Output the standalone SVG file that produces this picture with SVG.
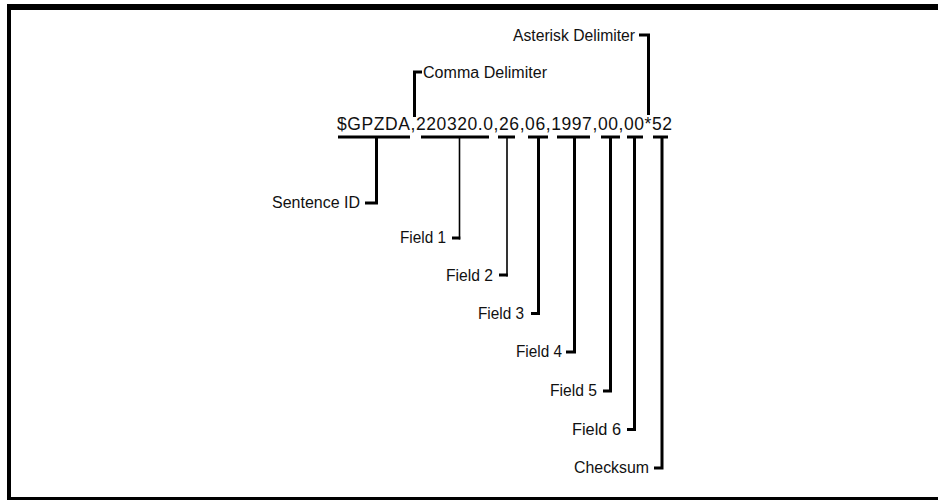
<svg xmlns="http://www.w3.org/2000/svg" width="938" height="500" viewBox="0 0 938 500">
<style>
.lbl{font-family:"Liberation Sans",Arial,sans-serif;font-size:16px;fill:#111;text-anchor:end}
.lblL{font-family:"Liberation Sans",Arial,sans-serif;font-size:16px;fill:#111}
.main{font-family:"Liberation Sans",Arial,sans-serif;font-size:17.5px;fill:#111}
.c{stroke:#000;stroke-width:3;fill:none;stroke-linejoin:miter;stroke-linecap:butt}
.t{stroke:#000;stroke-width:1.6;fill:none}
</style>
<rect x="0" y="0" width="938" height="500" fill="#fff"/>
<g id="frame" fill="#000">
<rect x="7" y="4" width="931" height="6"/>
<rect x="7" y="4" width="4" height="496"/>
<rect x="7" y="497" width="931" height="3"/>
</g>
<g id="sentence"><text class="main" x="337" y="130" textLength="335" lengthAdjust="spacing">$GPZDA,220320.0,26,06,1997,00,00*52</text></g>
<g id="connectors">
<line class="c" x1="338" y1="137" x2="410" y2="137"/>
<path class="c" d="M376.5 138V203H365"/>
<line class="c" x1="421" y1="137" x2="489" y2="137"/>
<line class="t" x1="459.5" y1="138" x2="459.5" y2="239.5"/>
<line class="c" x1="452" y1="238" x2="460.3" y2="238"/>
<line class="c" x1="498" y1="137" x2="515" y2="137"/>
<line class="t" x1="507" y1="138" x2="507" y2="276.5"/>
<line class="c" x1="499" y1="275" x2="507.8" y2="275"/>
<line class="c" x1="528" y1="137" x2="548" y2="137"/>
<path class="c" d="M538.5 138V313.5H531"/>
<line class="c" x1="557" y1="137" x2="590" y2="137"/>
<path class="c" d="M574.5 138V352H566"/>
<line class="c" x1="601" y1="137" x2="620" y2="137"/>
<path class="c" d="M610.5 138V391H603"/>
<line class="c" x1="627" y1="137" x2="643" y2="137"/>
<path class="c" d="M634.5 138V429.5H627"/>
<line class="c" x1="653" y1="137" x2="668" y2="137"/>
<path class="c" d="M662 138V468H654"/>
<path class="c" d="M414.5 117V72H422"/>
<path class="c" d="M648.5 115V35H639"/>
</g>
<g id="comma-delimiter"><text class="lblL" x="423" y="78" textLength="124" lengthAdjust="spacingAndGlyphs">Comma Delimiter</text></g>
<g id="asterisk-delimiter"><text class="lbl" x="635" y="40.5" textLength="122" lengthAdjust="spacingAndGlyphs">Asterisk Delimiter</text></g>
<g id="sentence-id"><text class="lbl" x="360" y="207.5" textLength="88" lengthAdjust="spacingAndGlyphs">Sentence ID</text></g>
<g id="field-1"><text class="lbl" x="446" y="242.5" textLength="46" lengthAdjust="spacingAndGlyphs">Field 1</text></g>
<g id="field-2"><text class="lbl" x="493" y="280.5" textLength="47" lengthAdjust="spacingAndGlyphs">Field 2</text></g>
<g id="field-3"><text class="lbl" x="524" y="318.5" textLength="46" lengthAdjust="spacingAndGlyphs">Field 3</text></g>
<g id="field-4"><text class="lbl" x="562" y="357" textLength="46" lengthAdjust="spacingAndGlyphs">Field 4</text></g>
<g id="field-5"><text class="lbl" x="597" y="396" textLength="47" lengthAdjust="spacingAndGlyphs">Field 5</text></g>
<g id="field-6"><text class="lbl" x="621" y="434.5" textLength="49" lengthAdjust="spacingAndGlyphs">Field 6</text></g>
<g id="checksum"><text class="lbl" x="649" y="473" textLength="75" lengthAdjust="spacingAndGlyphs">Checksum</text></g>
</svg>
